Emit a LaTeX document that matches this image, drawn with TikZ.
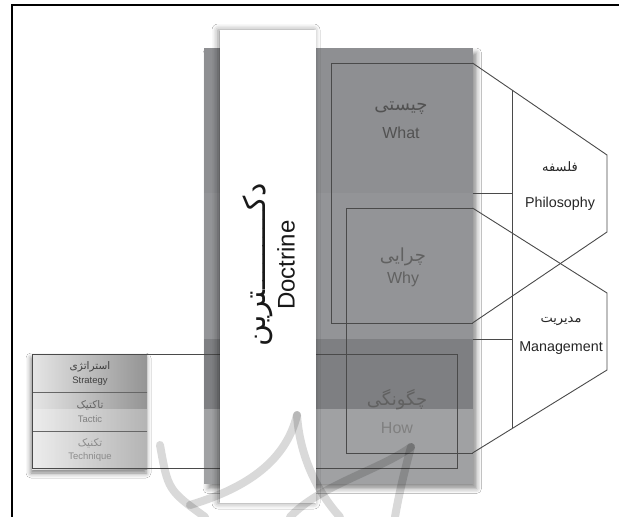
\documentclass[tikz,border=0pt]{standalone}
\usepackage{fontspec}
\setmainfont{Liberation Sans}
\newfontfamily\fa[Script=Arabic]{DejaVu Sans}
\TeXXeTstate=1
\usetikzlibrary{shadows.blur}
\definecolor{ln}{HTML}{4A4A4A}
\definecolor{gA}{HTML}{8E8F92}
\definecolor{gB}{HTML}{939497}
\definecolor{gC}{HTML}{7E7F82}
\definecolor{gD}{HTML}{A0A1A3}
\newcommand{\fatxt}[1]{{\fa\beginR #1\endR}}
\begin{document}
\begin{tikzpicture}[x=1pt,y=-1pt,
  edge/.style={draw=ln, line width=0.9pt},
  plainbox/.style={draw=none, inner sep=0pt, outer sep=0pt, anchor=north west},
  txt/.style={inner sep=0pt, align=center},
  big/.style={txt, font=\fontsize{16}{19}\selectfont},
  bigfa/.style={txt, font=\fontsize{18}{21}\selectfont},
  med/.style={txt, font=\fontsize{14.3}{17}\selectfont, text=black!85},
  medfa/.style={txt, font=\fontsize{13}{16}\selectfont, text=black!85},
  sml/.style={txt, font=\fontsize{9.5}{11}\selectfont},
  smlfa/.style={txt, font=\fontsize{10.5}{12}\selectfont},
  cell/.style={plainbox, minimum width=115pt, left color=black!10, right color=black!42},
  wmark/.style={draw=black, opacity=0.15, line width=8pt, line cap=round}
]
\useasboundingbox (0,0) rectangle (619,517);
\fill[white] (0,0) rectangle (619,517);

% grey core
\node[plainbox, fill=gA, minimum width=268.5pt, minimum height=435.5pt,
  blur shadow={shadow xshift=4pt, shadow yshift=-5pt, shadow blur radius=5pt, shadow opacity=45}] (core) at (204,48) {};
\fill[gB] (204,193) rectangle (472.5,339);
\fill[gC] (204,339) rectangle (472.5,409);
\fill[gD] (204,409) rectangle (472.5,483.5);

% left cells
\node[plainbox, fill=white, minimum width=115pt, minimum height=115pt,
  blur shadow={shadow xshift=-1pt, shadow yshift=-4pt, shadow blur radius=5pt, shadow opacity=50}] (cells) at (32,354) {};
\node[cell, minimum height=38pt] (strat) at (32,354) {};
\node[cell, minimum height=39pt] (tact) at (32,392) {};
\node[cell, minimum height=38pt] (tech) at (32,431) {};
\fill[white, opacity=0.3] (32,409) rectangle (147,469);
\draw[edge, draw=black!60] (strat.south west) -- (strat.south east);
\draw[edge, draw=black!60] (tact.south west) -- (tact.south east);

% how / technique frame
\node[plainbox, minimum width=425pt, minimum height=114pt] (howbox) at (32,354) {};
\draw[edge] (howbox.north west) rectangle (howbox.south east);

% doctrine strip
\node[plainbox, fill=white, minimum width=96pt, minimum height=473pt,
  blur shadow={shadow xshift=-2pt, shadow yshift=0pt, shadow blur radius=6pt, shadow opacity=45}] (doc) at (220,30) {};

% what / why boxes
\node[plainbox, minimum width=141.5pt, minimum height=260pt] (whatbox) at (331,63) {};
\node[plainbox, minimum width=126.5pt, minimum height=245pt] (whybox) at (346,208) {};
\draw[edge] (whatbox.north east) -- (whatbox.north west) -- (whatbox.south west) -- (whatbox.south east);
\draw[edge] (whybox.north east) -- (whybox.north west) -- (whybox.south west) -- (whybox.south east);

% hexagon callouts
\coordinate (p1) at (607,155);
\coordinate (p2) at (607,232);
\coordinate (m1) at (607,293);
\coordinate (m2) at (607,370);
\coordinate (s1) at (512,90.3);
\coordinate (s2) at (512,428.4);
\coordinate (t1a) at (472.5,193);
\coordinate (t1b) at (512,193);
\coordinate (t2a) at (472.5,339);
\coordinate (t2b) at (512,339);
\draw[edge] (whatbox.north east) -- (p1) -- (p2) -- (whatbox.south east);
\draw[edge] (whybox.north east) -- (m1) -- (m2) -- (whybox.south east);
\draw[edge] (s1) -- (s2);
\draw[edge] (t1a) -- (t1b);
\draw[edge] (t2a) -- (t2b);

% texts
\node[bigfa, text=black!68] (whatfa) at (401,108) {\fatxt{چیستی}};
\node[big, text=black!68] (whaten) at (401,133) {What};
\node[bigfa, text=black!62] (whyfa) at (403,257) {\fatxt{چرایی}};
\node[big, text=black!62] (whyen) at (403,279) {Why};
\node[bigfa, text=black!62] (howfa) at (397,400) {\fatxt{چگونگی}};
\node[big, text=black!50] (howen) at (397,428) {How};
\node[medfa] (philfa) at (560,167) {\fatxt{فلسفه}};
\node[med] (philen) at (560,204) {Philosophy};
\node[medfa] (mgmtfa) at (561,321) {\fatxt{مدیریت}};
\node[med] (mgmten) at (561,348) {Management};
\node[txt, rotate=90, font=\fontsize{30}{32}\selectfont, text=black!90] (docfa) at (258,265) {\fatxt{دکـــــــــترین}};
\node[txt, rotate=90, font=\fontsize{24}{26}\selectfont, text=black!90] (docen) at (286,265) {Doctrine};
\node[smlfa, text=black!75] (stratfa) at (90,367) {\fatxt{استراتژی}};
\node[sml, text=black!75] (straten) at (90,381) {Strategy};
\node[smlfa, text=black!60] (tactfa) at (90,405) {\fatxt{تاکتیک}};
\node[sml, text=black!50] (tacten) at (90,419) {Tactic};
\node[smlfa, text=black!45] (techfa) at (90,443) {\fatxt{تکنیک}};
\node[sml, text=black!45] (techen) at (90,457) {Technique};

% watermark
\draw[wmark] (160,445) .. controls (168,490) .. (205,517);
\draw[wmark] (190,505) .. controls (240,490) and (285,465) .. (297,415);
\draw[wmark] (297,415) .. controls (300,460) and (320,495) .. (340,517);
\draw[wmark] (290,517) .. controls (320,485) and (380,470) .. (411,447);
\draw[wmark] (411,447) .. controls (402,480) and (398,500) .. (395,517);

% frame
\draw[line width=1.2pt] (12,517) -- (12,5) -- (619,5);
\end{tikzpicture}
\end{document}
